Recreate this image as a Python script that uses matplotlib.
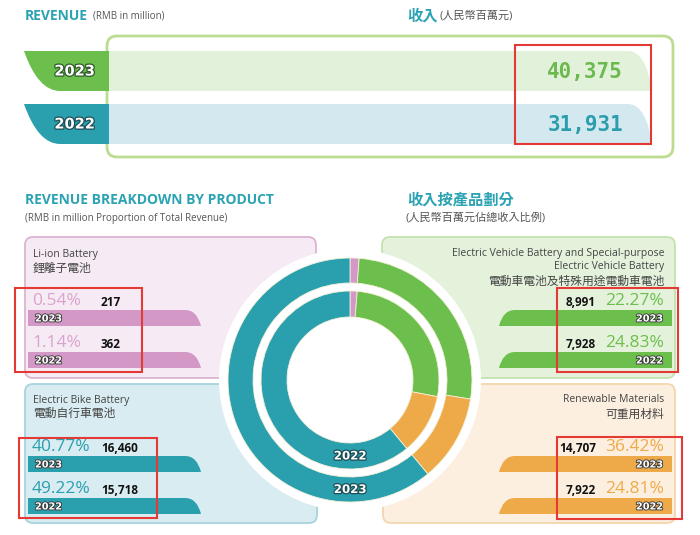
import matplotlib
matplotlib.use("Agg")
import matplotlib.pyplot as plt
import matplotlib.patheffects as pe
from matplotlib.patches import FancyBboxPatch, Rectangle, PathPatch, Circle
from matplotlib.path import Path

plt.rcParams['font.family'] = ['Open Sans', 'Noto Sans CJK TC', 'DejaVu Sans']

# data
years = ['2023', '2022']
revenue = [40375, 31931]

# order = clockwise order in the ring
products_en = ['Li-ion Battery',
               'Electric Vehicle Battery and Special-purpose\nElectric Vehicle Battery',
               'Renewable Materials',
               'Electric Bike Battery']
products_zh = ['鋰離子電池', '電動車電池及特殊用途電動車電池', '可重用材料', '電動自行車電池']
share_2023 = [0.54, 22.27, 36.42, 40.77]
share_2022 = [1.14, 24.83, 24.81, 49.22]
amount_2023 = [217, 8991, 14707, 16460]
amount_2022 = [362, 7928, 7922, 15718]
# slice sizes of the ring graphic as it is drawn in the picture
ring_2023 = [1.2, 26.3, 11.5, 61.0]
ring_2022 = [1.3, 26.7, 11.0, 61.0]

TEAL_TXT = '#2ba3b3'
GREEN = '#6cbf4c'
TEAL = '#2a9fae'
ORANGE = '#eeaa48'
PINK = '#d398c6'
RED = '#e53935'
ring_colors = [PINK, GREEN, ORANGE, TEAL]
pct_colors = ['#d9a3cd', '#6cbf4c', '#eeaa48', '#2a9fae']
panel_fill = ['#f6ebf4', '#e4f2dc', '#fcefe0', '#d8ecf1']
panel_edge = ['#dcb4d2', '#c4e2ad', '#f3d6ae', '#a8d3dc']

fig = plt.figure(figsize=(7, 5.35), dpi=100)
ax = fig.add_axes([0, 0, 1, 1])
ax.set_xlim(0, 700)
ax.set_ylim(535, 0)
ax.axis('off')


def right_tab(x0, x1, y0, y1, r):
    # flat left end, rounded slope on the right end
    verts = [(x0, y0), (x1 - r, y0), (x1 - r * 0.25, y0), (x1, y1), (x0, y1), (x0, y0)]
    codes = [Path.MOVETO, Path.LINETO, Path.CURVE3, Path.CURVE3, Path.LINETO, Path.CLOSEPOLY]
    return Path(verts, codes)


def left_tab(x0, x1, y0, y1, r):
    verts = [(x1, y0), (x0 + r, y0), (x0 + r * 0.25, y0), (x0, y1), (x1, y1), (x1, y0)]
    codes = [Path.MOVETO, Path.LINETO, Path.CURVE3, Path.CURVE3, Path.LINETO, Path.CLOSEPOLY]
    return Path(verts, codes)


def swoosh(x0, x1, y0, y1):
    verts = [(x0, y0), (x0 + 14, y1), (x0 + 36, y1), (x1, y1), (x1, y0), (x0, y0)]
    codes = [Path.MOVETO, Path.CURVE3, Path.CURVE3, Path.LINETO, Path.LINETO, Path.CLOSEPOLY]
    return Path(verts, codes)


def year_label(x, y, s, ha, size, lw, edge='#3b3b3b'):
    ax.text(x, y, s, ha=ha, va='center', fontsize=size, fontweight='bold',
            color='white', family='DejaVu Sans',
            path_effects=[pe.withStroke(linewidth=lw, foreground=edge)])


# ---- revenue block
ax.text(25, 16, 'REVENUE', fontsize=10, fontweight='bold', color=TEAL_TXT, va='center')
ax.text(93, 16.5, '(RMB in million)', fontsize=7, color='#555555', va='center')
ax.text(407, 16, '收入', fontsize=11, fontweight='bold', color=TEAL_TXT, va='center')
ax.text(439, 16.5, '(人民幣百萬元)', fontsize=8, color='#555555', va='center')

ax.add_patch(FancyBboxPatch((107, 36), 566, 121, boxstyle='round,pad=0,rounding_size=10',
                            fc='white', ec='#bcdc92', lw=2))
band_cols = ['#e1f1da', '#d3e9ef']
tab_cols = [GREEN, TEAL]
tab_edge = ['#2f5a2a', '#1c4f57']
val_cols = ['#6cb94d', '#2b9dad']
band_y = [51, 104]
for i, yr in enumerate(years):
    y0 = band_y[i]
    y1 = y0 + 40
    ax.add_patch(PathPatch(right_tab(108, 652, y0, y1, 24), fc=band_cols[i], ec='none'))
    ax.add_patch(PathPatch(swoosh(24, 109, y0, y1), fc=tab_cols[i], ec='none'))
    year_label(95, (y0 + y1) / 2, yr, 'right', 10.5, 1.8, tab_edge[i])
    ax.text(623, (y0 + y1) / 2 + 1, f'{revenue[i]:,}', ha='right', va='center', fontsize=15,
            fontweight='bold', family='DejaVu Sans Mono', color=val_cols[i])
ax.add_patch(Rectangle((515, 45), 136, 99, fill=False, ec=RED, lw=1.5))

# ---- breakdown headings
ax.text(25, 199.5, 'REVENUE BREAKDOWN BY PRODUCT', fontsize=10, fontweight='bold',
        color=TEAL_TXT, va='center')
ax.text(25, 218, '(RMB in million Proportion of Total Revenue)', fontsize=7,
        color='#555555', va='center')
ax.text(407, 200, '收入按產品劃分', fontsize=11, fontweight='bold', color=TEAL_TXT, va='center')
ax.text(405, 218.5, '(人民幣百萬元佔總收入比例)', fontsize=8, color='#555555', va='center')

# panel layout: x0, y0, x1, y1, side
panels = [(25, 237, 316, 378, 'left'),
          (382, 237, 675, 378, 'right'),
          (383, 384, 675, 523, 'right'),
          (25, 384, 317, 523, 'left')]
title_dy = [(254, 268), (260, 281), (400, 414), (400, 413)]
bar_top = [(310, 352), (310, 352), (456, 498), (456, 498)]
red_boxes = [(15, 288, 142, 372), (557, 288, 678, 372), (557, 437, 682, 519), (19, 438, 157, 518)]

for k in range(4):
    x0, y0, x1, y1, side = panels[k]
    ax.add_patch(FancyBboxPatch((x0, y0), x1 - x0, y1 - y0, boxstyle='round,pad=0,rounding_size=8',
                                fc=panel_fill[k], ec=panel_edge[k], lw=1.3))
    ty_en, ty_zh = title_dy[k]
    if side == 'left':
        ax.text(33, ty_en, products_en[k], fontsize=7.5, color='#444444', va='center')
        ax.text(33, ty_zh, products_zh[k], fontsize=8.5, color='#444444', va='center')
    else:
        ax.text(664, ty_en, products_en[k], fontsize=7.5, color='#444444', va='center',
                ha='right', linespacing=1.25)
        ax.text(664, ty_zh, products_zh[k], fontsize=8.5, color='#444444', va='center', ha='right')

    shares = [share_2023[k], share_2022[k]]
    amounts = [amount_2023[k], amount_2022[k]]
    for j, yr in enumerate(years):
        b0 = bar_top[k][j]
        b1 = b0 + 16
        if side == 'left':
            ax.add_patch(PathPatch(right_tab(28, 201, b0, b1, 16), fc=ring_colors[k], ec='none'))
            year_label(35, b0 + 8.5, yr, 'left', 7, 1.3)
            ax.text(32, b0 - 9, f'{shares[j]:.2f}%', fontsize=12.5, color=pct_colors[k],
                    va='center')
            ax.text(101, b0 - 8, f'{amounts[j]:,}', fontsize=8.5, fontweight='bold',
                    color='#111111', va='center')
        else:
            ax.add_patch(PathPatch(left_tab(499, 672, b0, b1, 16), fc=ring_colors[k], ec='none'))
            year_label(663, b0 + 8.5, yr, 'right', 7, 1.3)
            ax.text(664, b0 - 9, f'{shares[j]:.2f}%', fontsize=12.5, color=pct_colors[k],
                    va='center', ha='right')
            ax.text(596, b0 - 7, f'{amounts[j]:,}', fontsize=8.5, fontweight='bold',
                    color='#111111', va='center', ha='right')
    rx0, ry0, rx1, ry1 = red_boxes[k]
    ax.add_patch(Rectangle((rx0, ry0), rx1 - rx0, ry1 - ry0, fill=False, ec=RED, lw=1.5))

# ---- double ring in the middle
dax = fig.add_axes([220 / 700, (535 - 510) / 535, 260 / 700, 260 / 535])
dax.add_patch(Circle((0, 0), 131, fc='white', ec='none', clip_on=False))
dax.pie(ring_2023, radius=122, startangle=90, counterclock=False, colors=ring_colors,
        wedgeprops=dict(width=25, edgecolor='#f3f0d8', linewidth=0.6))
dax.pie(ring_2022, radius=89, startangle=90, counterclock=False, colors=ring_colors,
        wedgeprops=dict(width=26, edgecolor='#f3f0d8', linewidth=0.6))
dax.set_xlim(-130, 130)
dax.set_ylim(-130, 130)
dax.set_aspect('equal')
dax.axis('off')
for yr, r_mid in zip(years, [109.5, 76]):
    dax.text(0, -r_mid, yr, ha='center', va='center', fontsize=8.5, fontweight='bold',
             color='white', family='DejaVu Sans',
             path_effects=[pe.withStroke(linewidth=1.8, foreground='#1c4f57')])

fig.savefig('out.png', dpi=100)
